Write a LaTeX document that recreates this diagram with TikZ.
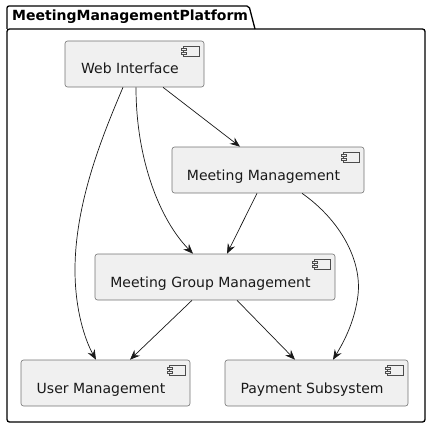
\documentclass[tikz,border=0pt]{standalone}
\usepackage{fontspec}
\setmainfont{DejaVu Sans}
\usetikzlibrary{arrows.meta,calc}
\begin{document}
\begin{tikzpicture}[x=1pt,y=-1pt,
  comp/.style={draw=black!55,fill=black!6,rounded corners=2.5pt,line width=0.6pt,inner sep=0pt,minimum height=46pt},
  ctext/.style={font=\fontsize{14pt}{16pt}\selectfont,anchor=base,inner sep=0pt,text=black!90},
  conn/.style={draw=black!90,line width=0.7pt,-{Stealth[length=10pt,width=8pt,inset=3.5pt]}},
  pkg/.style={draw=black,line width=1.3pt}]
\useasboundingbox (0,0) rectangle (431,428);
% package
\draw[pkg,rounded corners=2.5pt] (7,29) rectangle (425,422);
\draw[pkg,rounded corners=2pt] (7,29) -- (7,6) -- (249,6) -- (255,29);
\node[font=\bfseries\fontsize{14pt}{16pt}\selectfont,anchor=base west,inner sep=0pt] (ptitle) at (12,21) {MeetingManagementPlatform};
% components
\node[comp,minimum width=139pt] (wi) at (134.5,64) {};
\node[comp,minimum width=192pt] (mm) at (268,170) {};
\node[comp,minimum width=240pt] (mgm) at (215,277) {};
\node[comp,minimum width=169pt] (um) at (105.5,383) {};
\node[comp,minimum width=183pt] (ps) at (316.5,383) {};
\node[ctext] (wit) at (130,74) {Web Interface};
\node[ctext] (mmt) at (263.5,180) {Meeting Management};
\node[ctext] (mgmt) at (210.5,287) {Meeting Group Management};
\node[ctext] (umt) at (101,393) {User Management};
\node[ctext] (pst) at (312,393) {Payment Subsystem};
% icons
\foreach \n in {wi,mm,mgm,um,ps}{
  \draw[black!70,fill=black!6,line width=0.5pt] ($(\n.north east)+(-21,5.5)$) rectangle ($(\n.north east)+(-5,15.5)$);
  \draw[black!70,fill=black!6,line width=0.5pt] ($(\n.north east)+(-23,8)$) rectangle ($(\n.north east)+(-18,10)$);
  \draw[black!70,fill=black!6,line width=0.5pt] ($(\n.north east)+(-23,11.5)$) rectangle ($(\n.north east)+(-18,13.5)$);
}
% connectors
\draw[conn] ([xshift=28.5pt]wi.south) -- ([xshift=-28pt]mm.north);
\draw[conn] ([xshift=1.5pt]wi.south) .. controls (136,160) and (160,220) .. ([xshift=-22pt]mgm.north);
\draw[conn] ([xshift=-11.5pt]wi.south) .. controls (105,130) and (75,200) .. (75,270) .. controls (75,310) and (85,340) .. ([xshift=-9.5pt]um.north);
\draw[conn] ([xshift=-11pt]mm.south) -- ([xshift=12pt]mgm.north);
\draw[conn] ([xshift=34pt]mm.south) .. controls (340,220) and (362,260) .. (358,295) .. controls (355,320) and (345,340) .. ([xshift=16.5pt]ps.north);
\draw[conn] ([xshift=-23pt]mgm.south) -- ([xshift=24.5pt]um.north);
\draw[conn] ([xshift=22pt]mgm.south) -- ([xshift=-21.5pt]ps.north);
\end{tikzpicture}
\end{document}
